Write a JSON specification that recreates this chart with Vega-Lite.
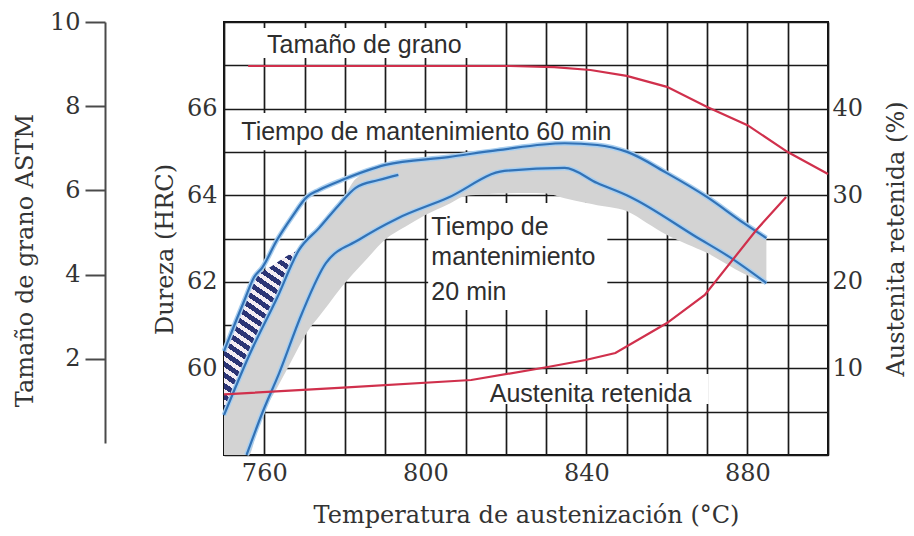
{
  "$schema": "https://vega.github.io/schema/vega-lite/v6.json",
  "width": 604,
  "height": 433,
  "autosize": {"type": "none"},
  "padding": {"left": 224, "top": 22, "right": 86, "bottom": 81},
  "background": "white",
  "config": {
    "view": {"stroke": "#111111", "strokeWidth": 2},
    "axis": {
      "labelFont": "DejaVu Serif", "labelFontSize": 24, "labelColor": "#333333",
      "titleFont": "DejaVu Serif", "titleFontSize": 24, "titleFontWeight": "normal", "titleColor": "#333333",
      "ticks": false, "domain": false, "labelOverlap": false, "labelFlush": false,
      "gridColor": "#1a1a1a", "gridWidth": 1.7, "gridOpacity": 1
    }
  },
  "datasets": {
    "boxes": [
      {"t": 750.5, "t2": 815.6, "hrc": 67.86, "hrc2": 67.17},
      {"t": 750.5, "t2": 846.3, "hrc": 65.9, "hrc2": 65.04},
      {"t": 800.7, "t2": 845.2, "hrc": 63.82, "hrc2": 61.35},
      {"t": 814.3, "t2": 870.4, "hrc": 59.87, "hrc2": 59.18}
    ],
    "gray": [
      {"t": 750, "hrc": 58.92, "hrc2": 58.0},
      {"t": 753, "hrc": 59.58, "hrc2": 58.0},
      {"t": 756.2, "hrc": 60.29, "hrc2": 58.0},
      {"t": 758, "hrc": 60.65, "hrc2": 58.47},
      {"t": 760, "hrc": 61.02, "hrc2": 59.0},
      {"t": 763, "hrc": 61.59, "hrc2": 59.52},
      {"t": 766, "hrc": 62.19, "hrc2": 60.04},
      {"t": 768.6, "hrc": 62.73, "hrc2": 60.5},
      {"t": 770.6, "hrc": 62.93, "hrc2": 60.83},
      {"t": 773.6, "hrc": 63.24, "hrc2": 61.2},
      {"t": 776, "hrc": 63.5, "hrc2": 61.49},
      {"t": 779.3, "hrc": 63.86, "hrc2": 61.89},
      {"t": 782, "hrc": 64.3, "hrc2": 62.18},
      {"t": 785, "hrc": 64.53, "hrc2": 62.48},
      {"t": 790.1, "hrc": 64.7, "hrc2": 62.98},
      {"t": 795, "hrc": 64.76, "hrc2": 63.27},
      {"t": 800, "hrc": 64.81, "hrc2": 63.54},
      {"t": 805.7, "hrc": 64.88, "hrc2": 63.79},
      {"t": 810, "hrc": 64.94, "hrc2": 63.98},
      {"t": 815, "hrc": 65.0, "hrc2": 64.02},
      {"t": 818, "hrc": 65.04, "hrc2": 64.04},
      {"t": 825, "hrc": 65.11, "hrc2": 64.05},
      {"t": 830, "hrc": 65.16, "hrc2": 64.04},
      {"t": 834.6, "hrc": 65.2, "hrc2": 63.93},
      {"t": 840, "hrc": 65.18, "hrc2": 63.82},
      {"t": 842.7, "hrc": 65.16, "hrc2": 63.77},
      {"t": 846, "hrc": 65.09, "hrc2": 63.72},
      {"t": 850.1, "hrc": 65.0, "hrc2": 63.63},
      {"t": 855, "hrc": 64.76, "hrc2": 63.36},
      {"t": 860, "hrc": 64.51, "hrc2": 63.08},
      {"t": 865, "hrc": 64.23, "hrc2": 62.87},
      {"t": 869.9, "hrc": 63.96, "hrc2": 62.67},
      {"t": 875, "hrc": 63.63, "hrc2": 62.4},
      {"t": 879, "hrc": 63.36, "hrc2": 62.19},
      {"t": 884.7, "hrc": 63.01, "hrc2": 61.97}
    ],
    "hatch": [
      {"t": 750, "hrc": 60.4, "hrc2": 58.92},
      {"t": 753, "hrc": 61.1, "hrc2": 59.58},
      {"t": 755.1, "hrc": 61.58, "hrc2": 60.05},
      {"t": 757.5, "hrc": 62.11, "hrc2": 60.54},
      {"t": 759.5, "hrc": 62.23, "hrc2": 60.92},
      {"t": 762, "hrc": 62.37, "hrc2": 61.4},
      {"t": 765, "hrc": 62.56, "hrc2": 61.99},
      {"t": 767, "hrc": 62.67, "hrc2": 62.4},
      {"t": 768.6, "hrc": 62.73, "hrc2": 62.73}
    ],
    "blue": [
      {"curve": "A", "t": 750, "hrc": 60.4},
      {"curve": "A", "t": 753, "hrc": 61.1},
      {"curve": "A", "t": 755.1, "hrc": 61.58},
      {"curve": "A", "t": 757.5, "hrc": 62.11},
      {"curve": "A", "t": 759.5, "hrc": 62.33},
      {"curve": "A", "t": 763.2, "hrc": 62.97},
      {"curve": "A", "t": 766.9, "hrc": 63.5},
      {"curve": "A", "t": 770.6, "hrc": 63.96},
      {"curve": "A", "t": 773.6, "hrc": 64.12},
      {"curve": "A", "t": 779.3, "hrc": 64.35},
      {"curve": "A", "t": 790.1, "hrc": 64.7},
      {"curve": "A", "t": 805.7, "hrc": 64.88},
      {"curve": "A", "t": 818, "hrc": 65.04},
      {"curve": "A", "t": 834.6, "hrc": 65.2},
      {"curve": "A", "t": 842.7, "hrc": 65.16},
      {"curve": "A", "t": 850.1, "hrc": 65.0},
      {"curve": "A", "t": 860, "hrc": 64.51},
      {"curve": "A", "t": 869.9, "hrc": 63.96},
      {"curve": "A", "t": 879, "hrc": 63.36},
      {"curve": "A", "t": 884.7, "hrc": 63.01},
      {"curve": "B", "t": 750, "hrc": 58.92},
      {"curve": "B", "t": 756.3, "hrc": 60.31},
      {"curve": "B", "t": 763.2, "hrc": 61.63},
      {"curve": "B", "t": 768.6, "hrc": 62.73},
      {"curve": "B", "t": 773.6, "hrc": 63.24},
      {"curve": "B", "t": 778.5, "hrc": 63.77},
      {"curve": "B", "t": 782.7, "hrc": 64.17},
      {"curve": "B", "t": 788.4, "hrc": 64.35},
      {"curve": "B", "t": 793.3, "hrc": 64.47},
      {"curve": "C", "t": 755.6, "hrc": 58.0},
      {"curve": "C", "t": 759.5, "hrc": 58.97},
      {"curve": "C", "t": 763.7, "hrc": 59.89},
      {"curve": "C", "t": 769.4, "hrc": 61.28},
      {"curve": "C", "t": 775.3, "hrc": 62.43},
      {"curve": "C", "t": 783.5, "hrc": 62.97},
      {"curve": "C", "t": 793.2, "hrc": 63.47},
      {"curve": "C", "t": 805.6, "hrc": 63.94},
      {"curve": "C", "t": 819.6, "hrc": 64.56},
      {"curve": "C", "t": 834.6, "hrc": 64.63},
      {"curve": "C", "t": 842.7, "hrc": 64.28},
      {"curve": "C", "t": 850.9, "hrc": 63.96},
      {"curve": "C", "t": 867.4, "hrc": 63.03},
      {"curve": "C", "t": 875.6, "hrc": 62.57},
      {"curve": "C", "t": 884.7, "hrc": 61.97}
    ],
    "labels": [
      {"t": 760.7, "hrc": 67.28, "label": "Tamaño de grano"},
      {"t": 754.3, "hrc": 65.27, "label": "Tiempo de mantenimiento 60 min"},
      {"t": 801.5, "hrc": 63.08, "label": "Tiempo de"},
      {"t": 801.5, "hrc": 62.39, "label": "mantenimiento"},
      {"t": 801.5, "hrc": 61.58, "label": "20 min"},
      {"t": 816, "hrc": 59.22, "label": "Austenita retenida"}
    ],
    "grain": [
      {"t": 756, "astm": 8.955},
      {"t": 821, "astm": 8.955},
      {"t": 832, "astm": 8.93},
      {"t": 841, "astm": 8.86},
      {"t": 850, "astm": 8.72},
      {"t": 860, "astm": 8.46},
      {"t": 870, "astm": 7.98},
      {"t": 880, "astm": 7.55},
      {"t": 890, "astm": 6.91},
      {"t": 900, "astm": 6.39}
    ],
    "aust": [
      {"t": 750, "pct": 7.0},
      {"t": 778.5, "pct": 7.74},
      {"t": 811.4, "pct": 8.66},
      {"t": 830.4, "pct": 10.16},
      {"t": 839.8, "pct": 10.97},
      {"t": 847.2, "pct": 11.78},
      {"t": 860, "pct": 15.24},
      {"t": 869.4, "pct": 18.48},
      {"t": 882.2, "pct": 25.98},
      {"t": 889.6, "pct": 29.8}
    ]
  },
  "encoding": {
    "x": {
      "field": "t", "type": "quantitative",
      "scale": {"domain": [750, 900], "nice": false, "zero": false},
      "axis": {
        "title": "Temperatura de austenización (°C)",
        "values": [750, 760, 770, 780, 790, 800, 810, 820, 830, 840, 850, 860, 870, 880, 890, 900],
        "labelExpr": "datum.value % 40 == 0 ? datum.label : ''",
        "grid": true, "labelPadding": 6, "titlePadding": 18
      }
    }
  },
  "layer": [
    {
      "encoding": {
        "y": {
          "field": "hrc", "type": "quantitative",
          "scale": {"domain": [58, 68], "nice": false, "zero": false},
          "axis": {
            "title": "Dureza (HRC)",
            "values": [58, 59, 60, 61, 62, 63, 64, 65, 66, 67, 68],
            "labelExpr": "datum.value >= 60 && datum.value <= 66 && datum.value % 2 == 0 ? datum.label : ''",
            "grid": true, "labelPadding": 7, "titlePadding": 9, "titleY": 227
          }
        }
      },
      "layer": [
        {"data": {"name": "boxes"}, "mark": {"type": "rect", "fill": "white"}, "encoding": {"x2": {"field": "t2"}, "y2": {"field": "hrc2"}}},
        {"data": {"name": "gray"}, "mark": {"type": "area", "fill": "#d3d3d3", "interpolate": "monotone"}, "encoding": {"y2": {"field": "hrc2"}}},
        {"data": {"name": "hatch"}, "mark": {"type": "area", "interpolate": "monotone", "fill": {"gradient": "linear", "x1": 1, "y1": 0, "x2": 0.624, "y2": 1.196, "stops": [
          {"offset": 0, "color": "#2b3475"}, {"offset": 0.0275, "color": "#2b3475"}, {"offset": 0.0275, "color": "#f3ecf2"}, {"offset": 0.05, "color": "#f3ecf2"},
          {"offset": 0.05, "color": "#2b3475"}, {"offset": 0.0775, "color": "#2b3475"}, {"offset": 0.0775, "color": "#f3ecf2"}, {"offset": 0.1, "color": "#f3ecf2"},
          {"offset": 0.1, "color": "#2b3475"}, {"offset": 0.1275, "color": "#2b3475"}, {"offset": 0.1275, "color": "#f3ecf2"}, {"offset": 0.15, "color": "#f3ecf2"},
          {"offset": 0.15, "color": "#2b3475"}, {"offset": 0.1775, "color": "#2b3475"}, {"offset": 0.1775, "color": "#f3ecf2"}, {"offset": 0.2, "color": "#f3ecf2"},
          {"offset": 0.2, "color": "#2b3475"}, {"offset": 0.2275, "color": "#2b3475"}, {"offset": 0.2275, "color": "#f3ecf2"}, {"offset": 0.25, "color": "#f3ecf2"},
          {"offset": 0.25, "color": "#2b3475"}, {"offset": 0.2775, "color": "#2b3475"}, {"offset": 0.2775, "color": "#f3ecf2"}, {"offset": 0.3, "color": "#f3ecf2"},
          {"offset": 0.3, "color": "#2b3475"}, {"offset": 0.3275, "color": "#2b3475"}, {"offset": 0.3275, "color": "#f3ecf2"}, {"offset": 0.35, "color": "#f3ecf2"},
          {"offset": 0.35, "color": "#2b3475"}, {"offset": 0.3775, "color": "#2b3475"}, {"offset": 0.3775, "color": "#f3ecf2"}, {"offset": 0.4, "color": "#f3ecf2"},
          {"offset": 0.4, "color": "#2b3475"}, {"offset": 0.4275, "color": "#2b3475"}, {"offset": 0.4275, "color": "#f3ecf2"}, {"offset": 0.45, "color": "#f3ecf2"},
          {"offset": 0.45, "color": "#2b3475"}, {"offset": 0.4775, "color": "#2b3475"}, {"offset": 0.4775, "color": "#f3ecf2"}, {"offset": 0.5, "color": "#f3ecf2"},
          {"offset": 0.5, "color": "#2b3475"}, {"offset": 0.5275, "color": "#2b3475"}, {"offset": 0.5275, "color": "#f3ecf2"}, {"offset": 0.55, "color": "#f3ecf2"},
          {"offset": 0.55, "color": "#2b3475"}, {"offset": 0.5775, "color": "#2b3475"}, {"offset": 0.5775, "color": "#f3ecf2"}, {"offset": 0.6, "color": "#f3ecf2"},
          {"offset": 0.6, "color": "#2b3475"}, {"offset": 0.6275, "color": "#2b3475"}, {"offset": 0.6275, "color": "#f3ecf2"}, {"offset": 0.65, "color": "#f3ecf2"},
          {"offset": 0.65, "color": "#2b3475"}, {"offset": 0.6775, "color": "#2b3475"}, {"offset": 0.6775, "color": "#f3ecf2"}, {"offset": 0.7, "color": "#f3ecf2"},
          {"offset": 0.7, "color": "#2b3475"}, {"offset": 0.7275, "color": "#2b3475"}, {"offset": 0.7275, "color": "#f3ecf2"}, {"offset": 0.75, "color": "#f3ecf2"},
          {"offset": 0.75, "color": "#2b3475"}, {"offset": 0.7775, "color": "#2b3475"}, {"offset": 0.7775, "color": "#f3ecf2"}, {"offset": 0.8, "color": "#f3ecf2"},
          {"offset": 0.8, "color": "#2b3475"}, {"offset": 0.8275, "color": "#2b3475"}, {"offset": 0.8275, "color": "#f3ecf2"}, {"offset": 0.85, "color": "#f3ecf2"},
          {"offset": 0.85, "color": "#2b3475"}, {"offset": 0.8775, "color": "#2b3475"}, {"offset": 0.8775, "color": "#f3ecf2"}, {"offset": 0.9, "color": "#f3ecf2"},
          {"offset": 0.9, "color": "#2b3475"}, {"offset": 0.9275, "color": "#2b3475"}, {"offset": 0.9275, "color": "#f3ecf2"}, {"offset": 0.95, "color": "#f3ecf2"},
          {"offset": 0.95, "color": "#2b3475"}, {"offset": 0.9775, "color": "#2b3475"}, {"offset": 0.9775, "color": "#f3ecf2"}, {"offset": 1, "color": "#f3ecf2"}
        ]}}, "encoding": {"y2": {"field": "hrc2"}}},
        {"data": {"name": "blue"}, "mark": {"type": "line", "stroke": "#a9cff0", "strokeWidth": 5, "interpolate": "monotone"}, "encoding": {"detail": {"field": "curve"}}},
        {"data": {"name": "blue"}, "mark": {"type": "line", "stroke": "#3272b6", "strokeWidth": 2.2, "interpolate": "monotone"}, "encoding": {"detail": {"field": "curve"}}},
        {"data": {"name": "labels"}, "mark": {"type": "text", "align": "left", "baseline": "alphabetic", "font": "Liberation Sans", "fontSize": 25, "fill": "#2e2e2e"}, "encoding": {"text": {"field": "label"}}}
      ]
    },
    {
      "data": {"name": "grain"},
      "mark": {"type": "line", "stroke": "#d0304c", "strokeWidth": 2.2},
      "encoding": {
        "y": {
          "field": "astm", "type": "quantitative",
          "scale": {"domain": [0, 10], "range": [421, 0], "nice": false, "zero": false},
          "axis": {
            "orient": "left", "offset": 119, "title": "Tamaño de grano ASTM",
            "values": [2, 4, 6, 8, 10], "grid": false,
            "domain": true, "domainColor": "#4a4a4a", "domainWidth": 2,
            "ticks": true, "tickSize": 20, "tickWidth": 2, "tickColor": "#4a4a4a",
            "labelPadding": 5, "titlePadding": 12, "titleY": 238
          }
        }
      }
    },
    {
      "data": {"name": "aust"},
      "mark": {"type": "line", "stroke": "#d0304c", "strokeWidth": 2.2},
      "encoding": {
        "y": {
          "field": "pct", "type": "quantitative",
          "scale": {"domain": [0, 50], "nice": false, "zero": false},
          "axis": {
            "orient": "right", "title": "Austenita retenida (%)",
            "values": [10, 20, 30, 40], "grid": false,
            "labelPadding": 4, "titleAngle": 270, "titleBaseline": "top", "titlePadding": 22
          }
        }
      }
    }
  ],
  "resolve": {"scale": {"y": "independent"}}
}
